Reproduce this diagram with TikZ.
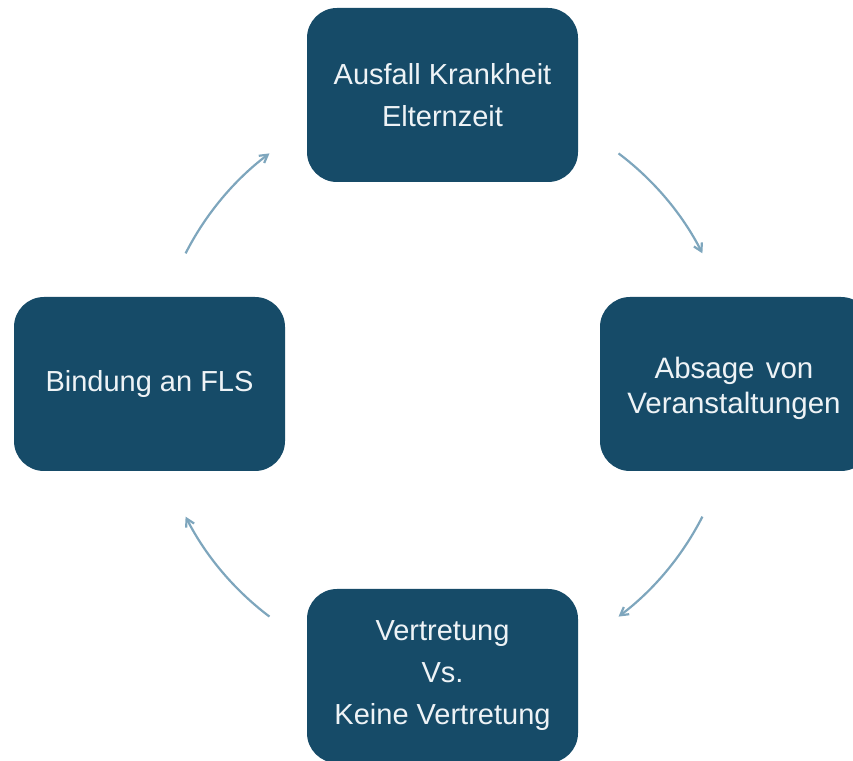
\documentclass[tikz,border=0pt]{standalone}
\usepackage{fontspec}
\setmainfont{Liberation Sans}
\usetikzlibrary{arrows.meta,calc}
\definecolor{boxfill}{HTML}{164B68}
\definecolor{boxtext}{HTML}{EEF3F6}
\definecolor{arrowcol}{HTML}{7EA6BD}
\begin{document}
\begin{tikzpicture}[x=1pt,y=1pt,
  cbox/.style={fill=boxfill, rounded corners=30pt, minimum width=271pt, minimum height=174pt, inner sep=0pt},
  ctext/.style={text=boxtext, align=center, inner sep=0pt, font=\fontsize{29}{42}\selectfont},
  cyc/.style={draw=arrowcol, line width=2.2pt, -{Straight Barb[angle=60:9pt]}}]
\useasboundingbox (0,0) rectangle (853,760);
% boxes
\node[cbox] (topbox) at (442.5,665) {};
\node[cbox] (rightbox) at (735.5,376) {};
\node[cbox] (leftbox) at (149.5,376) {};
\node[cbox] (botbox) at (442.5,84) {};
% texts
\node[ctext] (toptext) at (442.5,665) {Ausfall Krankheit\\Elternzeit};
\node[ctext, font=\fontsize{29.5}{35}\selectfont] (righttext) at (734,372) {Absage\hspace{3pt} von\\Veranstaltungen};
\node[ctext] (lefttext) at (149.5,376) {Bindung an FLS};
\node[ctext] (bottext) at (442.5,84) {Vertretung\\Vs.\\Keine Vertretung};
% cycle arrows
\coordinate (c) at (444,375);
\coordinate (a1s) at ($(c)+(53:290pt)$);
\coordinate (a2s) at ($(c)+(-27:290pt)$);
\coordinate (a3s) at ($(c)+(-127:290pt)$);
\coordinate (a4s) at ($(c)+(153:290pt)$);
\draw[cyc] (a1s) arc[start angle=53, end angle=27, radius=290pt];
\draw[cyc] (a2s) arc[start angle=-27, end angle=-53, radius=290pt];
\draw[cyc] (a3s) arc[start angle=-127, end angle=-153, radius=290pt];
\draw[cyc] (a4s) arc[start angle=153, end angle=127, radius=290pt];
\end{tikzpicture}
\end{document}
